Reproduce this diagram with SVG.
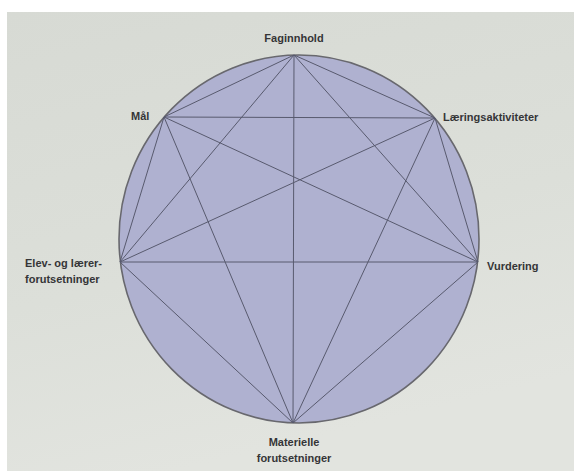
<svg xmlns="http://www.w3.org/2000/svg" width="574" height="471" viewBox="0 0 574 471">
<defs>
<linearGradient id="page" x1="0" y1="0" x2="0.3" y2="1">
<stop offset="0" stop-color="#d7dad4"/>
<stop offset="0.6" stop-color="#dcdfd9"/>
<stop offset="1" stop-color="#e2e4df"/>
</linearGradient>
<style>
.lbl{font-family:"Liberation Sans",Arial,sans-serif;font-weight:bold;font-size:11px;fill:#353537}
.edge{stroke:#585a6e;stroke-width:1;fill:none}
</style>
</defs>
<rect width="574" height="471" fill="#ffffff"/>
<rect x="7" y="12" width="567" height="459" fill="url(#page)"/>
<ellipse id="circle" cx="299" cy="239" rx="180" ry="184" fill="#afb1d0" stroke="#68686e" stroke-width="1.6"/>
<g id="connectors">
<line class="edge" x1="294" y1="55" x2="164" y2="117"/>
<line class="edge" x1="294" y1="55" x2="435" y2="118"/>
<line class="edge" x1="294" y1="55" x2="120" y2="262"/>
<line class="edge" x1="294" y1="55" x2="478" y2="262"/>
<line class="edge" x1="294" y1="55" x2="293" y2="423"/>
<line class="edge" x1="164" y1="117" x2="435" y2="118"/>
<line class="edge" x1="164" y1="117" x2="120" y2="262"/>
<line class="edge" x1="164" y1="117" x2="478" y2="262"/>
<line class="edge" x1="164" y1="117" x2="293" y2="423"/>
<line class="edge" x1="435" y1="118" x2="120" y2="262"/>
<line class="edge" x1="435" y1="118" x2="478" y2="262"/>
<line class="edge" x1="435" y1="118" x2="293" y2="423"/>
<line class="edge" x1="120" y1="262" x2="478" y2="262"/>
<line class="edge" x1="120" y1="262" x2="293" y2="423"/>
<line class="edge" x1="478" y1="262" x2="293" y2="423"/>
</g>
<g id="faginnhold"><text class="lbl" x="294" y="42" text-anchor="middle">Faginnhold</text></g>
<g id="mal"><text class="lbl" x="131" y="120">Mål</text></g>
<g id="laeringsaktiviteter"><text class="lbl" x="443" y="121">Læringsaktiviteter</text></g>
<g id="elev"><text class="lbl" x="25" y="267">Elev- og lærer-</text><text class="lbl" x="25" y="283">forutsetninger</text></g>
<g id="vurdering"><text class="lbl" x="487" y="270">Vurdering</text></g>
<g id="materielle"><text class="lbl" x="294" y="446" text-anchor="middle">Materielle</text><text class="lbl" x="294" y="462" text-anchor="middle">forutsetninger</text></g>
</svg>
